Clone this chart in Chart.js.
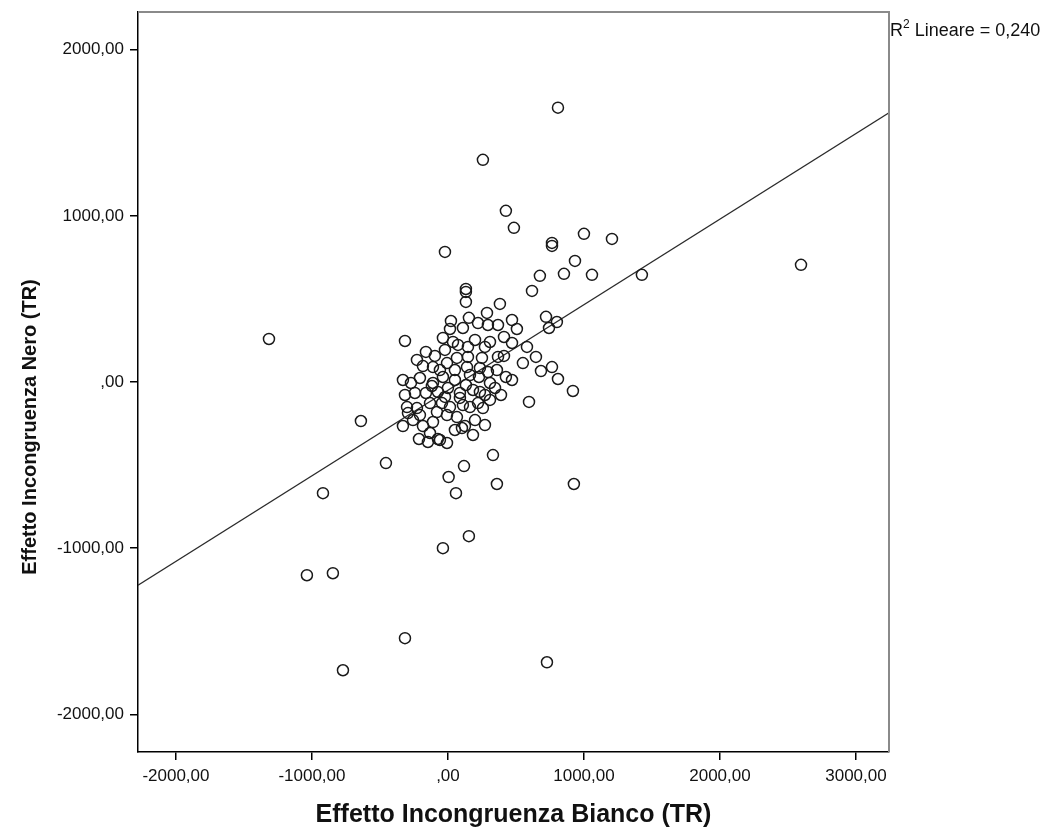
<!DOCTYPE html>
<html>
<head>
<meta charset="utf-8">
<script src="https://cdn.jsdelivr.net/npm/chart.js@4.4.0/dist/chart.umd.min.js"></script>
<style>
  html, body { margin: 0; padding: 0; background: #fff; }
  #wrap { width: 1051px; height: 830px; }
</style>
</head>
<body>
<div id="wrap"><canvas id="chart" width="1051" height="830"></canvas></div>
<script>
// Effetto Incongruenza Bianco (TR) -- asse X
const biancoTR = [
  809, 257, 426, 485, -22, 765, 765, 1000, 1206, 934, 1059, 853, 676, 1426, 2596, 618,
  132, 132, 132, -1316, -316, -640, -456, -919, -37, 154, 59, 5, 118, 331, 360, 926,
  -1037, -846, -316, -772, 728, 596, 919, 809, 765, 684, 647, 551, 581, 743, 801, 721,
  382, 22, 154, 287, 221, 471, 15, 110, 294, 368, 507, -37, 37, 147, 272, 309,
  412, 471, -162, -96, -22, 66, 147, 250, 368, 412, -228, -184, -110, -7, 51, 140,
  235, 294, 360, 426, -331, -272, -206, -110, -37, 51, 132, 228, 309, 390, 471, -316,
  -243, -162, -118, -74, 0, 88, 184, 235, -301, -228, -132, -44, 15, 110, 162, 221,
  257, -331, -257, -184, -110, -7, 66, 125, 199, -213, -132, -74, -7, 103, 184, -147,
  -59, 74, 199, -59, 162, 272, 346, 88, -22, 309, -206, -294, 51, 272, -81
];

// Effetto Incongruenza Nero (TR) -- asse Y
const neroTR = [
  1651, 1337, 1030, 928, 783, 837, 819, 892, 861, 729, 645, 651, 639, 645, 705, 548,
  560, 542, 482, 259, 247, -235, -488, -669, -1000, -928, -669, -572, -506, -440, -614, -614,
  -1163, -1151, -1542, -1735, -1687, -120, -54, 18, 90, 66, 151, 114, 211, 325, 361, 392,
  470, 367, 386, 416, 355, 373, 319, 325, 343, 343, 319, 265, 241, 211, 211, 241,
  271, 235, 181, 157, 193, 145, 151, 145, 151, 157, 133, 96, 90, 114, 72, 90,
  84, 60, 72, 30, 12, -6, 24, -6, 30, 12, -18, 30, -6, -78, 12, -78,
  -66, -66, -24, -60, -36, -66, -48, -60, -151, -157, -127, -127, -151, -139, -151, -127,
  -157, -265, -229, -265, -241, -199, -211, -265, -229, -343, -307, -343, -367, -277, -319, -361,
  -349, 223, 253, 72, 42, -78, -36, -96, -90, -108, -199, -187, -289, -259, -181
];

// assi e tacche
const xMin = -2279, xMax = 3243;
const yMin = -2227, yMax = 2227;
const xTicks = [-2000, -1000, 0, 1000, 2000, 3000];
const yTicks = [-2000, -1000, 0, 1000, 2000];

// retta di regressione (R2 lineare = 0,240)
const fitSlope = 0.515;
const fitIntercept = -50;
const r2Text = ' Lineare = 0,240';
const yTitle = 'Effetto Incongruenza Nero (TR)';

const FONT = '"Liberation Sans", Arial, sans-serif';

function fmtIt(v) {
  // formato SPSS italiano: ",00" per lo zero
  return v === 0 ? ',00' : v + ',00';
}

const points = biancoTR.map((x, i) => ({ x: x, y: neroTR[i] }));
const fitLine = [
  { x: xMin, y: fitIntercept + fitSlope * xMin },
  { x: xMax, y: fitIntercept + fitSlope * xMax }
];

const extras = {
  id: 'extras',
  afterDraw(chart) {
    const ctx = chart.ctx;
    const a = chart.chartArea;
    ctx.save();
    // bordo superiore e destro grigio
    ctx.strokeStyle = '#8a8a8a';
    ctx.lineWidth = 2;
    ctx.beginPath();
    ctx.moveTo(a.left, a.top);
    ctx.lineTo(a.right, a.top);
    ctx.lineTo(a.right, a.bottom);
    ctx.stroke();
    // etichetta R2
    ctx.fillStyle = '#111';
    ctx.textBaseline = 'alphabetic';
    ctx.textAlign = 'left';
    let x = a.right + 1;
    const y = 36;
    ctx.font = '18px ' + FONT;
    ctx.fillText('R', x, y);
    x += ctx.measureText('R').width;
    ctx.font = '12px ' + FONT;
    ctx.fillText('2', x, y - 8);
    x += ctx.measureText('2').width;
    ctx.font = '18px ' + FONT;
    ctx.fillText(r2Text, x, y);
    // titolo asse Y (SPSS lo centra un po' piu in basso)
    ctx.translate(30, 427);
    ctx.rotate(-Math.PI / 2);
    ctx.textAlign = 'center';
    ctx.textBaseline = 'middle';
    ctx.font = 'bold 20px ' + FONT;
    ctx.fillText(yTitle, 0, 0);
    ctx.restore();
  }
};

new Chart(document.getElementById('chart').getContext('2d'), {
  type: 'scatter',
  data: {
    datasets: [
      {
        label: 'Casi',
        data: points,
        pointRadius: 5.5,
        pointBorderWidth: 1.5,
        pointBorderColor: '#1a1a1a',
        pointBackgroundColor: 'rgba(0,0,0,0)',
        pointHoverRadius: 5.5
      },
      {
        type: 'line',
        label: 'Lineare',
        data: fitLine,
        borderColor: '#2a2a2a',
        borderWidth: 1.3,
        pointRadius: 0,
        fill: false
      }
    ]
  },
  options: {
    responsive: false,
    animation: false,
    layout: { padding: { left: 0, top: 12, right: 162, bottom: 0 } },
    plugins: {
      legend: { display: false },
      tooltip: { enabled: false }
    },
    scales: {
      x: {
        type: 'linear',
        min: xMin,
        max: xMax,
        afterBuildTicks: s => { s.ticks = xTicks.map(v => ({ value: v })); },
        afterFit: s => { s.height = 78; s.paddingLeft = 0; s.paddingRight = 0; },
        border: { display: true, color: '#000', width: 1.5 },
        grid: { drawOnChartArea: false, drawTicks: true, tickLength: 8, color: '#000', lineWidth: 1.5 },
        ticks: {
          callback: v => fmtIt(v),
          color: '#111',
          padding: 6,
          maxRotation: 0,
          autoSkip: false,
          font: { family: FONT, size: 17 }
        },
        title: {
          display: true,
          text: 'Effetto Incongruenza Bianco (TR)',
          color: '#111',
          padding: { top: 0, bottom: 0 },
          font: { family: FONT, size: 25, weight: 'bold' }
        }
      },
      y: {
        type: 'linear',
        min: yMin,
        max: yMax,
        afterBuildTicks: s => { s.ticks = yTicks.map(v => ({ value: v })); },
        afterFit: s => { s.width = 138; s.paddingTop = 0; s.paddingBottom = 0; },
        border: { display: true, color: '#000', width: 1.5 },
        grid: { drawOnChartArea: false, drawTicks: true, tickLength: 8, color: '#000', lineWidth: 1.5 },
        ticks: {
          callback: v => fmtIt(v),
          color: '#111',
          padding: 6,
          autoSkip: false,
          font: { family: FONT, size: 17 }
        },
        title: { display: false }
      }
    }
  },
  plugins: [extras]
});
</script>
</body>
</html>
